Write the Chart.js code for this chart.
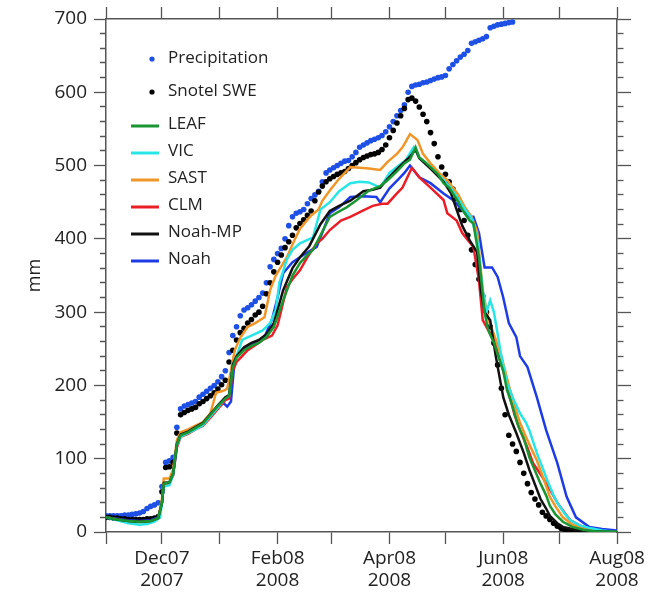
<!DOCTYPE html>
<html>
<head>
<meta charset="utf-8">
<script src="https://cdn.jsdelivr.net/npm/chart.js@4.4.1/dist/chart.umd.min.js"></script>
<style>
  html, body { margin: 0; padding: 0; background: #fff; }
  #wrap { width: 661px; height: 592px; position: relative; }
</style>
</head>
<body>
<div id="wrap"><canvas id="sweChart"></canvas></div>
<script>
// x values are days since 1 Nov 2007
const monthStarts = [0, 30, 61, 92, 121, 152, 182, 213, 243, 274];
const monthLabels = ['', ['Dec07', '2007'], '', ['Feb08', '2008'], '', ['Apr08', '2008'], '', ['Jun08', '2008'], '', ['Aug08', '2008']];

// dot series, one value every 2 days starting 1 Nov 2007
const precipitation = [22, 22, 22, 22, 22, 23, 23, 24, 25, 26, 28, 32, 35, 37, 40, 62, 95, 97, 102, 143,
  168, 172, 174, 176, 178, 184, 188, 192, 196, 200, 205, 212, 220, 245, 268, 280, 295, 303, 306, 310,
  315, 320, 326, 340, 362, 372, 380, 387, 400, 418, 430, 435, 437, 440, 448, 455, 460, 465, 478, 490,
  494, 497, 500, 503, 506, 507, 512, 518, 525, 528, 531, 534, 536, 538, 541, 546, 553, 560, 568, 575,
  583, 600, 608, 610, 611, 613, 614, 616, 618, 620, 621, 623, 632, 638, 643, 648, 652, 657, 667, 669,
  671, 673, 676, 688, 690, 692, 693, 694, 695, 696];
const snotelSWE = [20, 20, 19, 19, 18, 18, 17, 17, 17, 17, 17, 18, 18, 19, 21, 55, 88, 89, 95, 135,
  160, 163, 166, 168, 170, 175, 178, 182, 186, 190, 195, 201, 207, 232, 248, 262, 272, 278, 285, 290,
  296, 300, 308, 325, 340, 355, 368, 378, 388, 396, 405, 415, 421, 426, 432, 438, 452, 464, 472, 478,
  482, 485, 488, 490, 492, 496, 500, 504, 508, 511, 513, 515, 516, 518, 522, 528, 538, 548, 558, 568,
  578, 590, 592, 588, 580, 570, 560, 545, 530, 512, 498, 488, 478, 468, 455, 440, 425, 405, 385, 365,
  345, 322, 300, 280, 258, 228, 196, 160, 132, 120, 110, 95, 80, 66, 54, 45, 37, 27, 22, 17,
  12, 8, 5, 3, 1, 0, 0, 0];

// model lines, [day, mm]
const leaf = [[0,20],[6,17],[12,15],[18,14],[24,15],[28,19],[30,40],[31,66],[34,68],[36,80],[38,120],[40,132],[44,136],[48,142],[52,148],[56,160],[60,172],[64,182],[66,186],[68,225],[70,238],[74,248],[78,254],[82,258],[86,266],[90,280],[95,316],[100,350],[104,367],[108,378],[111,385],[115,405],[120,430],[124,436],[129,443],[134,452],[141,466],[147,472],[151,480],[156,492],[160,503],[163,508],[166,525],[168,511],[171,505],[174,498],[178,488],[181,476],[184,470],[186,462],[189,450],[191,440],[195,425],[197,421],[200,375],[203,299],[205,275],[208,258],[211,235],[213,220],[215,194],[218,171],[221,145],[224,128],[227,102],[230,84],[233,66],[236,50],[238,36],[241,24],[245,14],[250,7],[256,3],[262,1],[274,0]];
const vic = [[0,20],[6,16],[12,12],[18,10],[22,11],[26,14],[29,20],[30,40],[31,62],[34,64],[36,78],[38,118],[40,130],[44,135],[48,140],[52,146],[56,158],[60,170],[64,183],[66,186],[68,228],[70,240],[73,262],[78,268],[84,275],[88,285],[91,303],[93,340],[97,372],[100,385],[104,394],[111,402],[115,440],[120,450],[125,465],[131,476],[136,478],[141,477],[147,470],[152,490],[157,500],[161,508],[163,517],[165,525],[168,511],[174,498],[181,480],[184,472],[188,458],[192,442],[196,428],[199,400],[202,330],[204,300],[206,316],[208,300],[210,270],[212,240],[215,203],[218,184],[222,162],[225,150],[227,139],[231,108],[234,88],[237,68],[240,50],[242,40],[246,25],[249,16],[254,9],[260,5],[266,2],[274,0]];
const sast = [[0,20],[6,17],[12,14],[18,13],[24,14],[28,18],[30,45],[31,73],[34,73],[36,85],[38,125],[40,136],[44,140],[48,145],[52,150],[56,162],[59,190],[62,192],[64,194],[65,196],[67,220],[69,248],[72,265],[76,280],[80,285],[85,293],[88,330],[91,350],[97,375],[101,398],[104,414],[110,432],[114,440],[116,452],[120,466],[125,482],[131,498],[136,497],[141,496],[147,494],[151,505],[156,516],[159,525],[163,543],[167,535],[170,516],[174,503],[179,489],[183,480],[186,470],[189,460],[192,445],[196,430],[199,410],[202,330],[205,290],[208,270],[212,240],[216,200],[220,165],[222,149],[226,125],[231,98],[235,70],[238,48],[241,35],[245,20],[250,10],[256,4],[262,1],[274,0]];
const clm = [[0,20],[6,17],[12,15],[18,14],[24,15],[28,19],[30,40],[31,65],[34,66],[36,78],[38,115],[40,130],[44,134],[48,140],[52,145],[56,156],[60,168],[64,180],[66,182],[68,220],[70,232],[73,240],[76,248],[80,255],[84,262],[89,268],[92,282],[97,334],[100,345],[104,357],[108,375],[113,394],[116,400],[120,412],[126,425],[131,430],[138,439],[143,445],[148,448],[151,448],[156,462],[159,470],[164,497],[168,484],[174,470],[181,453],[183,435],[188,425],[191,408],[197,389],[200,343],[202,289],[205,275],[208,262],[210,245],[213,220],[216,190],[219,160],[222,139],[226,115],[229,94],[234,75],[238,58],[242,40],[246,26],[249,16],[254,9],[260,4],[266,1],[274,0]];
const noahMP = [[0,20],[6,17],[12,15],[18,14],[24,15],[28,19],[30,40],[31,67],[34,68],[36,80],[38,120],[40,133],[44,137],[48,143],[52,149],[56,161],[60,173],[64,184],[66,187],[68,228],[70,240],[74,252],[78,258],[82,262],[86,270],[90,285],[95,330],[100,360],[104,375],[109,390],[115,420],[120,438],[125,445],[131,452],[138,465],[143,467],[147,470],[151,482],[156,495],[160,505],[163,512],[166,522],[168,510],[174,496],[181,478],[185,462],[188,440],[191,418],[195,398],[199,382],[201,330],[203,300],[206,289],[209,240],[213,184],[216,160],[220,135],[224,108],[227,85],[230,65],[233,45],[236,32],[238,22],[242,12],[245,7],[252,3],[260,1],[274,0]];
const noah = [[0,20],[6,18],[12,16],[18,15],[24,16],[28,20],[30,40],[31,66],[34,67],[36,78],[38,118],[40,132],[44,137],[48,142],[52,148],[56,160],[60,170],[63,176],[65,171],[67,178],[69,235],[72,246],[76,252],[80,258],[85,266],[89,290],[92,320],[95,353],[100,368],[104,375],[109,383],[113,389],[117,415],[120,435],[125,443],[131,457],[138,458],[145,457],[147,450],[152,469],[157,482],[160,490],[163,500],[168,484],[174,476],[181,462],[186,453],[191,440],[194,430],[197,430],[200,408],[203,361],[207,361],[210,348],[213,320],[216,285],[220,266],[222,240],[226,225],[231,184],[236,139],[242,94],[247,48],[252,20],[259,7],[266,4],[274,2]];

const toXY = arr => arr.map(p => ({ x: p[0], y: p[1] }));
const everyTwoDays = arr => arr.map((v, i) => ({ x: i * 2, y: v }));

const axisColor = '#555';
const textColor = '#222';
const fontFamily = '"Open Sans", "Noto Sans", sans-serif';

const dotSet = (label, values, color, order) => ({
  label, data: everyTwoDays(values), showLine: false, legendType: 'dot',
  pointRadius: 2.8, pointBackgroundColor: color, pointBorderWidth: 0, borderColor: color, order
});
const lineSet = (label, values, color, order) => ({
  label, data: toXY(values), showLine: true, legendType: 'line',
  borderColor: color, borderWidth: 2.5, pointRadius: 0, tension: 0, order
});

const datasets = [
  dotSet('Precipitation', precipitation, 'rgb(30, 80, 230)', 8),
  dotSet('Snotel SWE', snotelSWE, '#000', 7),
  lineSet('LEAF', leaf, 'rgb(25, 150, 50)', 1),
  lineSet('VIC', vic, 'rgb(40, 230, 230)', 3),
  lineSet('SAST', sast, 'rgb(240, 150, 40)', 4),
  lineSet('CLM', clm, 'rgb(235, 30, 40)', 5),
  lineSet('Noah-MP', noahMP, '#111', 2),
  lineSet('Noah', noah, 'rgb(30, 60, 230)', 6)
];

// legend drawn inside the plot, upper left
const insideLegend = {
  id: 'insideLegend',
  afterDraw(chart) {
    const { ctx } = chart;
    ctx.save();
    ctx.font = '17px ' + fontFamily;
    ctx.textBaseline = 'middle';
    const rowsY = [58, 91, 124, 151, 178, 205, 232, 259];
    chart.data.datasets.forEach((ds, i) => {
      const y = rowsY[i];
      if (ds.legendType === 'dot') {
        ctx.fillStyle = ds.borderColor;
        ctx.beginPath();
        ctx.arc(152, y + 1, 2.6, 0, Math.PI * 2);
        ctx.fill();
      } else {
        ctx.strokeStyle = ds.borderColor;
        ctx.lineWidth = 3;
        ctx.beginPath();
        ctx.moveTo(131, y + 2);
        ctx.lineTo(159, y + 2);
        ctx.stroke();
      }
      ctx.fillStyle = textColor;
      ctx.fillText(ds.label, 168, y);
    });
    ctx.restore();
  }
};

const monthTicks = scale => { scale.ticks = monthStarts.map(v => ({ value: v })); };
const isMajorY = c => c.tick && c.tick.value % 100 === 0;

const frame = { color: axisColor, width: 1.5 };
const outerGrid = extra => Object.assign({
  drawOnChartArea: false, drawTicks: true, tickLength: 12,
  tickColor: axisColor, tickWidth: 1.3
}, extra || {});

new Chart(document.getElementById('sweChart'), {
  type: 'scatter',
  data: { datasets },
  plugins: [insideLegend],
  options: {
    responsive: true,
    maintainAspectRatio: false,
    animation: false,
    layout: { padding: 0 },
    plugins: { legend: { display: false }, tooltip: { enabled: false } },
    scales: {
      x: {
        type: 'linear', position: 'bottom', min: 0, max: 274,
        afterBuildTicks: monthTicks,
        afterFit: s => { s.height = 60; },
        border: frame,
        grid: outerGrid(),
        ticks: {
          autoSkip: false, maxRotation: 0, padding: 4, color: textColor,
          font: { family: fontFamily, size: 19, lineHeight: 1.15 },
          callback: (v, i) => monthLabels[i]
        }
      },
      x2: {
        type: 'linear', position: 'top', min: 0, max: 274,
        afterBuildTicks: monthTicks,
        afterFit: s => { s.height = 19; },
        border: frame,
        grid: outerGrid(),
        ticks: { display: false }
      },
      y: {
        type: 'linear', position: 'left', min: 0, max: 700,
        afterFit: s => { s.width = 106; },
        border: frame,
        grid: outerGrid({ tickBorderDash: c => isMajorY(c) ? [] : [0, 6, 20] }),
        title: {
          display: true, text: 'mm', color: textColor,
          font: { family: fontFamily, size: 18 }, padding: { top: 24, bottom: 0 }
        },
        ticks: {
          stepSize: 20, autoSkip: false, padding: 7, color: textColor,
          font: { family: fontFamily, size: 19 },
          callback: v => (v % 100 === 0 ? String(v) : '')
        }
      },
      y2: {
        type: 'linear', position: 'right', min: 0, max: 700,
        afterFit: s => { s.width = 44; },
        border: frame,
        grid: outerGrid({ tickLength: 14, tickBorderDash: c => isMajorY(c) ? [] : [6, 30] }),
        ticks: { stepSize: 20, autoSkip: false, display: false }
      }
    }
  }
});
</script>
</body>
</html>
